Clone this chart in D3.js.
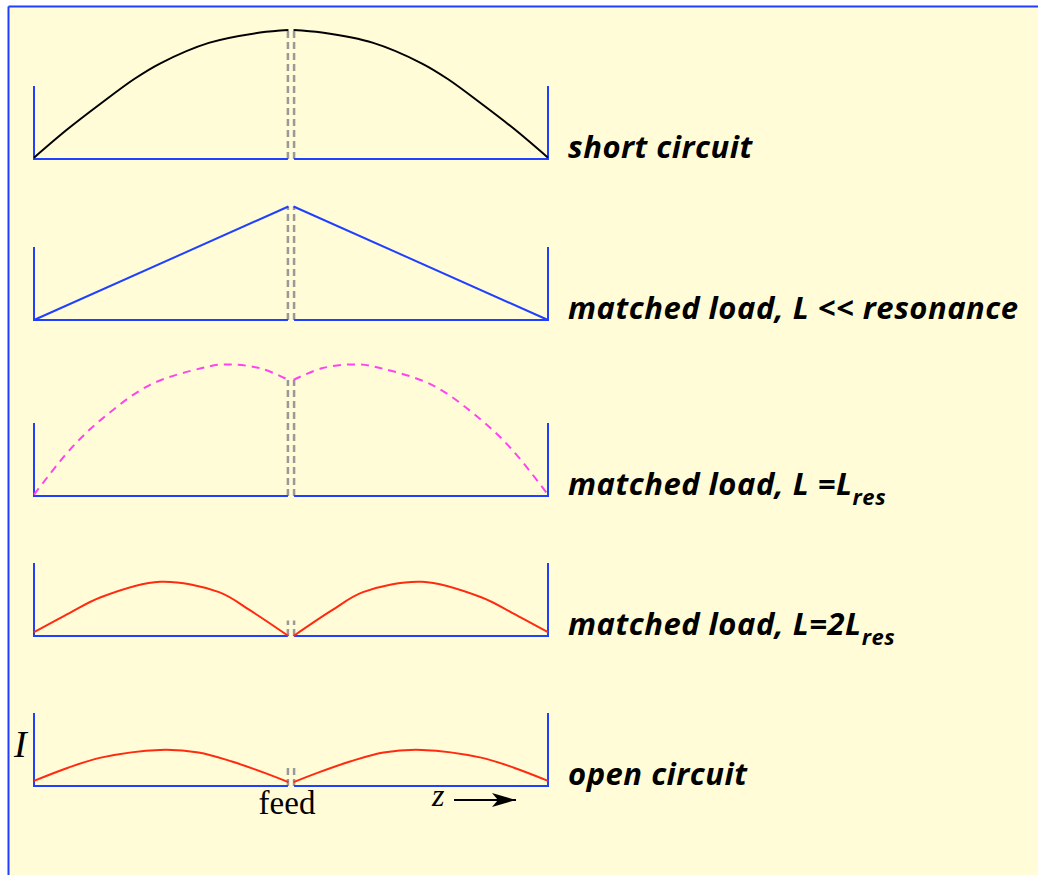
<!DOCTYPE html>
<html>
<head>
<meta charset="utf-8">
<script src="https://cdn.jsdelivr.net/npm/d3@7"></script>
<style>
  body { margin: 0; background: #fff; }
  svg { display: block; }
  .label { font-family: "Open Sans", sans-serif; font-weight: bold; font-style: italic; font-size: 31px; letter-spacing: 0.5px; fill: #000; }
  .serif { font-family: "Liberation Serif", serif; fill: #000; }
</style>
</head>
<body>
<div id="chart"></div>
<script>
// panel names (top to bottom)
var panels = ["short circuit", "matched load, L << resonance", "matched load, L =L_res", "matched load, L=2L_res", "open circuit"];

// position along antenna (-1 = left end, 0 = feed, 1 = right end) and current I for each case
var z_short = [-1, -0.87, -0.74, -0.61, -0.51, -0.32, -0.12, -0.01, 0.01, 0.12, 0.32, 0.51, 0.61, 0.74, 0.87, 1];
var i_short = [0.01, 0.23, 0.43, 0.62, 0.74, 0.9, 0.98, 1.0, 1.0, 0.98, 0.9, 0.74, 0.62, 0.43, 0.23, 0.01];

var z_small = [-1, -0.01, 0.01, 1];
var i_small = [0, 0.88, 0.88, 0];

var z_res = [-1, -0.86, -0.74, -0.55, -0.35, -0.26, -0.12, -0.01, 0.01, 0.12, 0.26, 0.35, 0.55, 0.74, 0.86, 1];
var i_res = [0.01, 0.36, 0.59, 0.86, 0.99, 1.02, 0.99, 0.9, 0.9, 0.99, 1.02, 0.99, 0.86, 0.59, 0.36, 0.01];

var z_2res = [-1, -0.86, -0.74, -0.51, -0.28, -0.16, -0.01, 0.01, 0.16, 0.28, 0.51, 0.74, 0.86, 1];
var i_2res = [0.03, 0.18, 0.3, 0.42, 0.34, 0.2, 0.0, 0.0, 0.2, 0.34, 0.42, 0.3, 0.18, 0.03];

var z_open = [-1, -0.87, -0.74, -0.51, -0.36, -0.23, -0.1, -0.01, 0.01, 0.1, 0.23, 0.36, 0.51, 0.74, 0.87, 1];
var i_open = [0.04, 0.14, 0.22, 0.28, 0.26, 0.19, 0.1, 0.03, 0.03, 0.1, 0.19, 0.26, 0.28, 0.22, 0.14, 0.04];

// feed line extent (in I units) per panel
var feed_top = [1.0, 0.88, 0.9, 0.12, 0.14];

var width = 1038, height = 875;
var baselines = [159, 320, 496, 636, 786];
var axis_h = 73;
var unit = 129;

var svg = d3.select("#chart").append("svg")
    .attr("width", width)
    .attr("height", height);

// background + frame
svg.append("rect").attr("x", 8).attr("y", 6).attr("width", width - 8).attr("height", height - 6).attr("fill", "#fffcd7");
svg.append("line").attr("x1", 8.5).attr("y1", 6.5).attr("x2", width).attr("y2", 6.5).attr("stroke", "#1f3cff").attr("stroke-width", 2);
svg.append("line").attr("x1", 8.5).attr("y1", 6.5).attr("x2", 8.5).attr("y2", height).attr("stroke", "#1f3cff").attr("stroke-width", 2);

var x = d3.scaleLinear().domain([-1, 1]).range([34, 548]);
var gap = 0.012;

var curves = [
    { z: z_short, i: i_short, color: "#000", dash: null },
    { z: z_small, i: i_small, color: "#2040ff", dash: null },
    { z: z_res, i: i_res, color: "#ff44ee", dash: "8,6" },
    { z: z_2res, i: i_2res, color: "#ff2a10", dash: null },
    { z: z_open, i: i_open, color: "#ff2a10", dash: null }
];

curves.forEach(function (c, p) {
    var base = baselines[p];
    var y = d3.scaleLinear().domain([0, 1]).range([base, base - unit]);
    var g = svg.append("g");

    // feed (double dashed grey lines)
    [-gap, gap].forEach(function (s) {
        g.append("line")
            .attr("x1", x(s)).attr("x2", x(s))
            .attr("y1", y(0)).attr("y2", y(feed_top[p]))
            .attr("stroke", "#999").attr("stroke-width", 2.5)
            .attr("stroke-dasharray", "7,4");
    });

    // axes: two baseline halves and end verticals
    var axis = d3.line();
    g.append("path")
        .attr("d", axis([[x(-1), base - axis_h], [x(-1), base], [x(-gap), base]]))
        .attr("fill", "none").attr("stroke", "#2040ff").attr("stroke-width", 2);
    g.append("path")
        .attr("d", axis([[x(gap), base], [x(1), base], [x(1), base - axis_h]]))
        .attr("fill", "none").attr("stroke", "#2040ff").attr("stroke-width", 2);

    // current distribution, one path per half
    var pts = c.z.map((d, k) => [d, c.i[k]]);
    var halves = [pts.filter(d => d[0] < 0), pts.filter(d => d[0] > 0)];
    var line = d3.line().x(d => x(d[0])).y(d => y(d[1])).curve(d3.curveCatmullRom);
    if (p == 1) line.curve(d3.curveLinear);
    halves.forEach(function (h) {
        g.append("path")
            .attr("d", line(h))
            .attr("fill", "none")
            .attr("stroke", c.color)
            .attr("stroke-width", 2)
            .attr("stroke-dasharray", c.dash);
    });

    // label, with optional subscript
    var parts = panels[p].split("_");
    var t = svg.append("text").attr("class", "label").attr("x", 568).attr("y", base - 1);
    t.append("tspan").text(parts[0]);
    if (parts.length > 1) {
        t.append("tspan").attr("dy", 10).style("font-size", "22px").text(parts[1]);
    }
});

// I, feed, z arrow
svg.append("text").attr("class", "serif").attr("x", 14).attr("y", 757)
    .style("font-size", "38px").style("font-style", "italic").text("I");
svg.append("text").attr("class", "serif").attr("x", x(0) - 4).attr("y", 814)
    .attr("text-anchor", "middle").style("font-size", "33px").text("feed");
svg.append("text").attr("class", "serif").attr("x", 432).attr("y", 806)
    .style("font-size", "32px").style("font-style", "italic").text("z");

svg.append("defs").append("marker")
    .attr("id", "arrow").attr("viewBox", "0 0 10 10")
    .attr("preserveAspectRatio", "none")
    .attr("refX", 10).attr("refY", 5)
    .attr("markerWidth", 24).attr("markerHeight", 14).attr("orient", "auto")
    .attr("markerUnits", "userSpaceOnUse")
    .append("path").attr("d", "M0,0 L10,5 L0,10 L2.5,5 Z").attr("fill", "#000");
svg.append("line").attr("x1", 454).attr("y1", 800).attr("x2", 516).attr("y2", 800)
    .attr("stroke", "#000").attr("stroke-width", 2).attr("marker-end", "url(#arrow)");
</script>
</body>
</html>
